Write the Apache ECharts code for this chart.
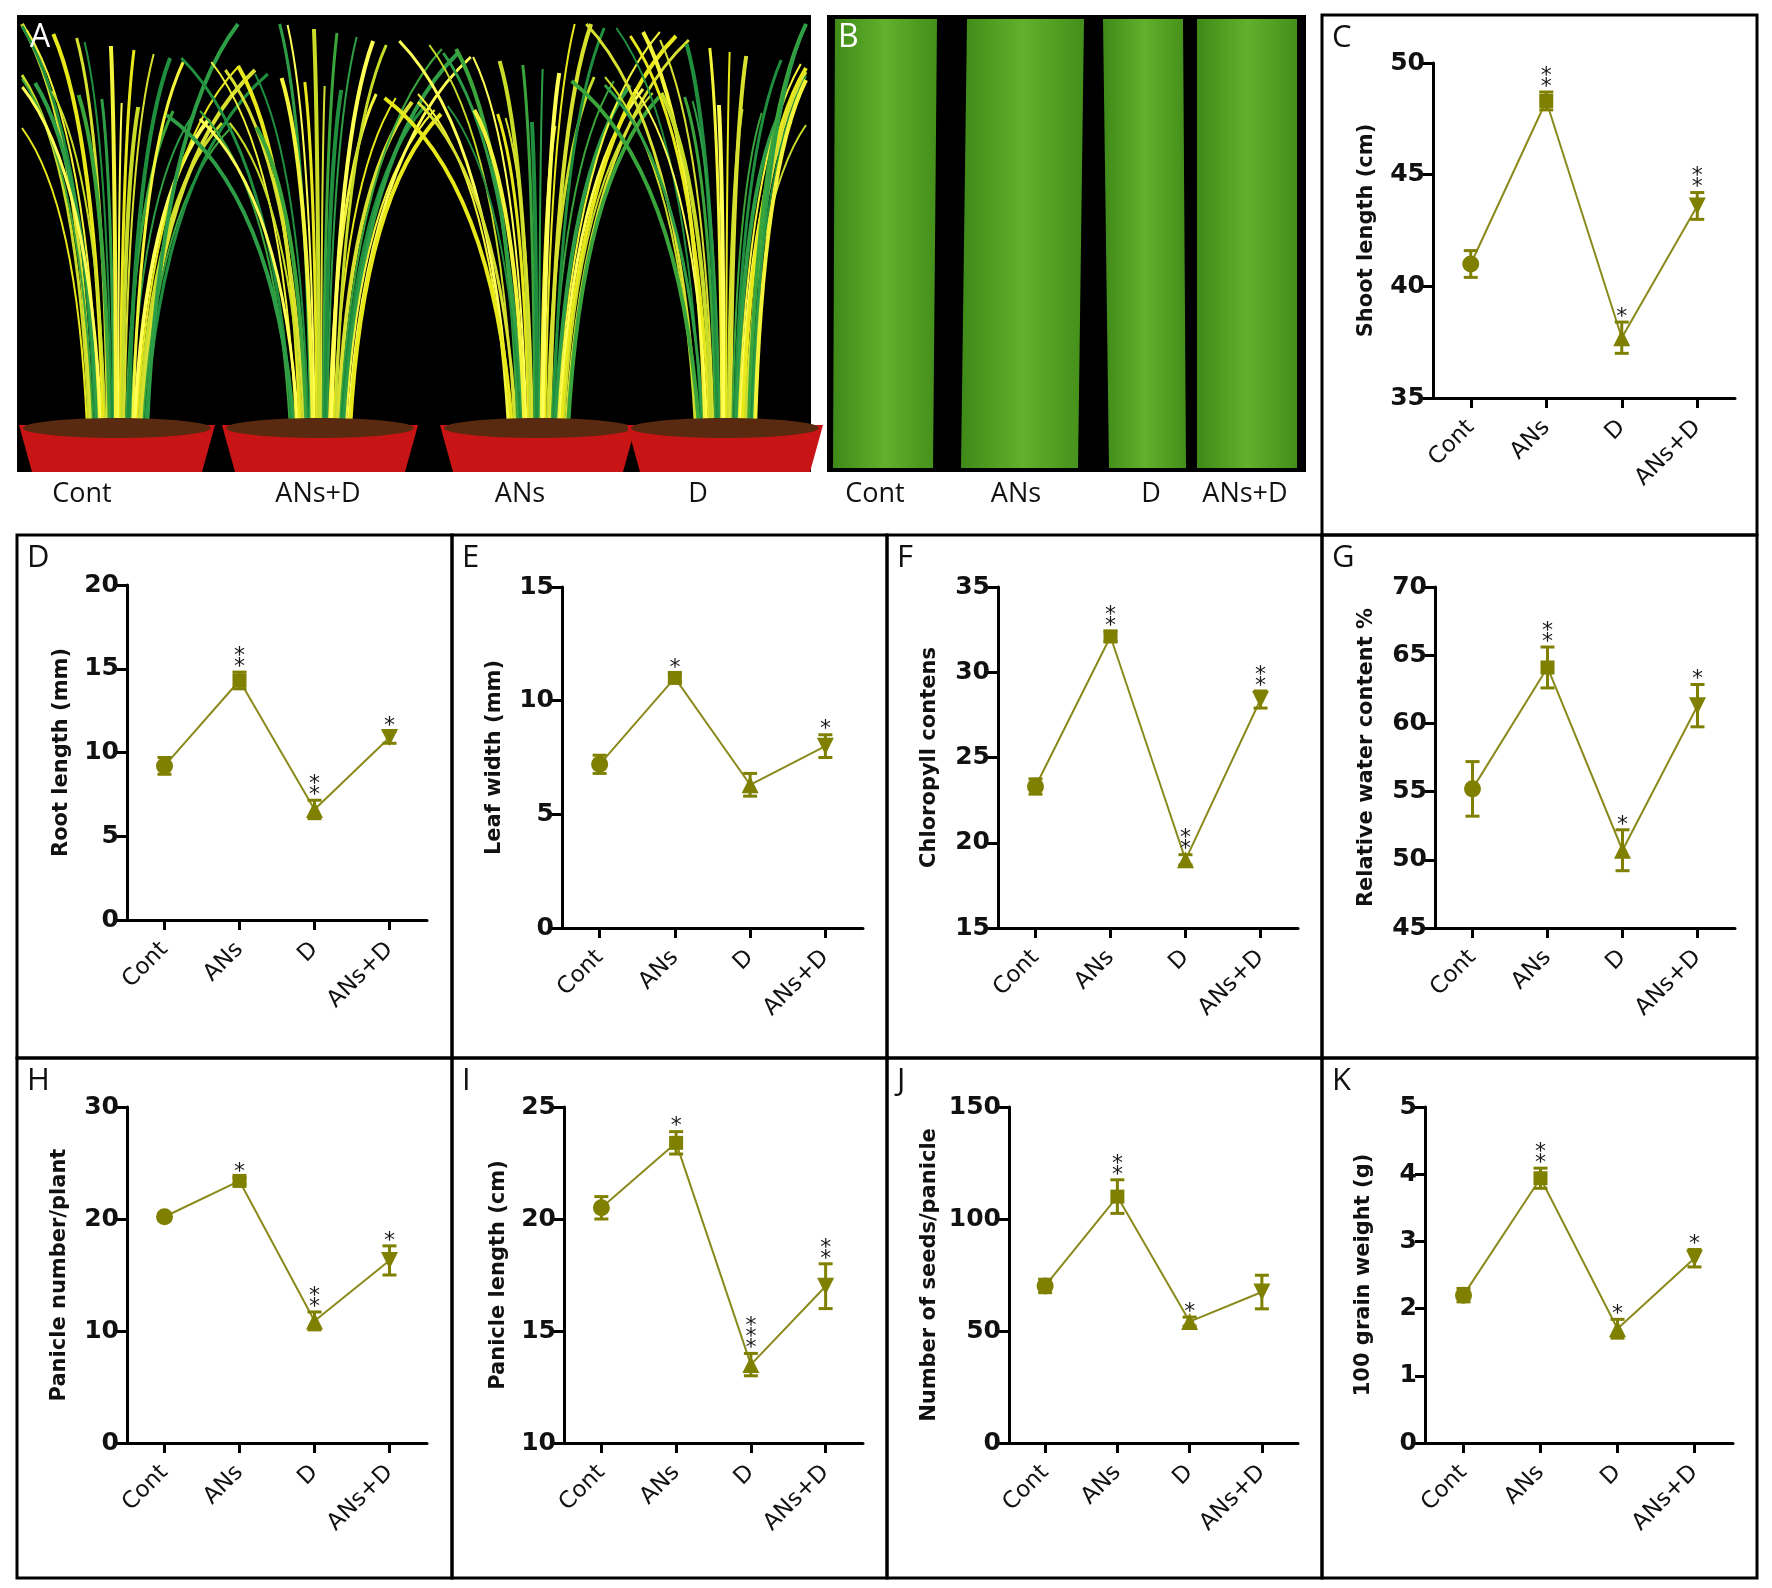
<!DOCTYPE html>
<html>
<head>
<meta charset="utf-8">
<script src="https://cdn.jsdelivr.net/npm/echarts@6/dist/echarts.min.js"></script>
<style>
body { margin: 0; background: #fff; }
#chart { width: 1772px; height: 1588px; }
</style>
</head>
<body>
<div id="chart"></div>
<script>
// treatments on every x axis
var groups = ['Cont', 'ANs', 'D', 'ANs+D'];

// C - shoot length (cm)
var shootMean = [41.0, 48.3, 37.7, 43.6];
var shootErr = [0.6, 0.4, 0.7, 0.6];
var shootStars = [0, 2, 1, 2];
// D - root length (mm)
var rootMean = [9.2, 14.3, 6.6, 10.9];
var rootErr = [0.5, 0.5, 0.55, 0.35];
var rootStars = [0, 2, 2, 1];
// E - leaf width (mm)
var leafMean = [7.2, 11.0, 6.3, 8.0];
var leafErr = [0.4, 0.2, 0.5, 0.5];
var leafStars = [0, 1, 0, 1];
// F - chlorophyll
var chlMean = [23.3, 32.1, 19.0, 28.4];
var chlErr = [0.45, 0.3, 0.3, 0.5];
var chlStars = [0, 2, 2, 2];
// G - relative water content %
var rwcMean = [55.2, 64.1, 50.7, 61.3];
var rwcErr = [2.0, 1.5, 1.5, 1.55];
var rwcStars = [0, 2, 1, 1];
// H - panicle number/plant
var panNumMean = [20.2, 23.4, 10.9, 16.3];
var panNumErr = [0.3, 0.3, 0.8, 1.3];
var panNumStars = [0, 1, 2, 1];
// I - panicle length (cm)
var panLenMean = [20.5, 23.4, 13.5, 17.0];
var panLenErr = [0.5, 0.5, 0.5, 1.0];
var panLenStars = [0, 1, 3, 2];
// J - number of seeds/panicle
var seedMean = [70.1, 110.0, 54.2, 67.4];
var seedErr = [3.0, 7.5, 2.0, 7.5];
var seedStars = [0, 2, 1, 0];
// K - 100 grain weight (g)
var grainMean = [2.2, 3.94, 1.7, 2.75];
var grainErr = [0.1, 0.15, 0.14, 0.13];
var grainStars = [0, 2, 1, 1];

var OLIVE = '#7f8000';
var LINE = '#8a8a1c';
var AXIS_FONT = 'DejaVu Sans, sans-serif';
var LABEL_FONT = 'Open Sans, sans-serif';

// layout: box = panel frame [x, y, w, h]; plot = [left, top, right, bottom] of the axes
var panels = [
	{ letter: 'C', name: 'Shoot length (cm)', mean: shootMean, err: shootErr, stars: shootStars,
		min: 35, max: 50, step: 5, box: [1322, 15, 435, 520], plot: [1433, 63, 1735, 398], gap: 56 },
	{ letter: 'D', name: 'Root length (mm)', mean: rootMean, err: rootErr, stars: rootStars,
		min: 0, max: 20, step: 5, box: [17, 535, 435, 523], plot: [127, 585, 427, 920], gap: 55 },
	{ letter: 'E', name: 'Leaf width (mm)', mean: leafMean, err: leafErr, stars: leafStars,
		min: 0, max: 15, step: 5, box: [452, 535, 435, 523], plot: [562, 587, 863, 928], gap: 57 },
	{ letter: 'F', name: 'Chloropyll contens', mean: chlMean, err: chlErr, stars: chlStars,
		min: 15, max: 35, step: 5, box: [887, 535, 435, 523], plot: [998, 587, 1298, 928], gap: 58 },
	{ letter: 'G', name: 'Relative water content %', mean: rwcMean, err: rwcErr, stars: rwcStars,
		min: 45, max: 70, step: 5, box: [1322, 535, 435, 523], plot: [1435, 587, 1735, 928], gap: 58 },
	{ letter: 'H', name: 'Panicle number/plant', mean: panNumMean, err: panNumErr, stars: panNumStars,
		min: 0, max: 30, step: 10, box: [17, 1058, 435, 520], plot: [127, 1107, 427, 1443], gap: 57 },
	{ letter: 'I', name: 'Panicle length (cm)', mean: panLenMean, err: panLenErr, stars: panLenStars,
		min: 10, max: 25, step: 5, box: [452, 1058, 435, 520], plot: [564, 1107, 863, 1443], gap: 55 },
	{ letter: 'J', name: 'Number of seeds/panicle', mean: seedMean, err: seedErr, stars: seedStars,
		min: 0, max: 150, step: 50, box: [887, 1058, 435, 520], plot: [1009, 1107, 1298, 1443], gap: 69 },
	{ letter: 'K', name: '100 grain weight (g)', mean: grainMean, err: grainErr, stars: grainStars,
		min: 0, max: 5, step: 1, box: [1322, 1058, 435, 520], plot: [1425, 1107, 1733, 1443], gap: 51 }
];

var symbols = ['circle', 'rect', 'triangle', 'triangle'];
var symbolSizes = [17, 14, 17, 17];
var symbolRotates = [0, 0, 0, 180];

function renderError(params, api) {
	var x = api.value(0);
	var m = api.value(1);
	var e = api.value(2);
	var n = api.value(3);
	var top = api.coord([x, m + e]);
	var bot = api.coord([x, m - e]);
	var cap = 7;
	var st = { stroke: OLIVE, lineWidth: 3 };
	var children = [
		{ type: 'line', shape: { x1: top[0], y1: top[1], x2: bot[0], y2: bot[1] }, style: st },
		{ type: 'line', shape: { x1: top[0] - cap, y1: top[1], x2: top[0] + cap, y2: top[1] }, style: st },
		{ type: 'line', shape: { x1: bot[0] - cap, y1: bot[1], x2: bot[0] + cap, y2: bot[1] }, style: st }
	];
	for (var i = 0; i < n; i++) {
		children.push({
			type: 'text',
			style: {
				text: '*', x: top[0], y: top[1] - 10 - i * 11 + 5,
				fill: '#1a1a1a', font: '22px ' + AXIS_FONT,
				textAlign: 'center', textVerticalAlign: 'middle'
			}
		});
	}
	return { type: 'group', children: children };
}

var grids = [], xAxes = [], yAxes = [], series = [];
var graphics = [];

panels.forEach(function(p, i) {
	grids.push({
		left: p.plot[0], top: p.plot[1],
		width: p.plot[2] - p.plot[0], height: p.plot[3] - p.plot[1],
		containLabel: false
	});
	xAxes.push({
		type: 'category', gridIndex: i, data: groups, boundaryGap: true,
		axisLine: { show: true, onZero: false, lineStyle: { color: '#000', width: 3 } },
		axisTick: { show: true, alignWithLabel: true, length: 10, lineStyle: { color: '#000', width: 3 } },
		axisLabel: { rotate: 45, margin: 26, color: '#111', fontSize: 23, fontFamily: AXIS_FONT, interval: 0 },
		splitLine: { show: false }
	});
	yAxes.push({
		type: 'value', gridIndex: i, min: p.min, max: p.max, interval: p.step,
		name: p.name, nameLocation: 'middle', nameGap: p.gap, nameRotate: 90,
		nameTextStyle: { color: '#111', fontSize: 21, fontWeight: 'bold', fontFamily: AXIS_FONT },
		axisLine: { show: true, lineStyle: { color: '#000', width: 3 } },
		axisTick: { show: true, length: 10, lineStyle: { color: '#000', width: 3 } },
		axisLabel: { margin: 8, color: '#111', fontSize: 25, fontWeight: 'bold', fontFamily: AXIS_FONT },
		splitLine: { show: false }
	});
	series.push({
		type: 'line', xAxisIndex: i, yAxisIndex: i, z: 3,
		lineStyle: { color: LINE, width: 2 },
		itemStyle: { color: OLIVE },
		data: p.mean.map(function(v, j) {
			return { value: v, symbol: symbols[j], symbolSize: symbolSizes[j], symbolRotate: symbolRotates[j] };
		})
	});
	series.push({
		type: 'custom', xAxisIndex: i, yAxisIndex: i, z: 4,
		renderItem: renderError,
		data: p.mean.map(function(v, j) { return [j, v, p.err[j], p.stars[j]]; })
	});
	graphics.push({
		type: 'rect', shape: { x: p.box[0], y: p.box[1], width: p.box[2], height: p.box[3] },
		style: { fill: null, stroke: '#000', lineWidth: 3 }, z: 10
	});
	graphics.push({
		type: 'text', x: p.box[0] + 10, y: p.box[1] + 8,
		style: { text: p.letter, fill: '#111', font: '31px ' + LABEL_FONT }
	});
});

// panel A: stand-in for the photograph of the four potted plants
var potCenters = [117, 320, 538, 725];
var leafColors = ['#e8e81a', '#3aa53a', '#f4f43a', '#c8dc28', '#1f8f3f', '#ffff55', '#d8e030', '#2e9e46'];
graphics.push({ type: 'rect', shape: { x: 17, y: 15, width: 794, height: 457 }, style: { fill: '#000' } });
potCenters.forEach(function(cx, pi) {
	var nLeaves = 30;
	for (var k = 0; k < nLeaves; k++) {
		var t = k / (nLeaves - 1);
		var bx = cx + (t - 0.5) * 60;
		var by = 428;
		var spread = (t - 0.5) * 2;
		var len = 300 + ((k * 53 + pi * 17) % 110);
		var tx = Math.max(22, Math.min(806, bx + spread * (90 + (k * 29) % 70)));
		var ty = Math.max(24, by - len);
		graphics.push({
			type: 'bezierCurve',
			shape: { x1: bx, y1: by, cpx1: bx + (tx - bx) * 0.15, cpy1: by - (by - ty) * 0.75, x2: tx, y2: ty },
			style: { stroke: leafColors[(k * 3 + pi) % leafColors.length], lineWidth: 2 + (k % 3), fill: null }
		});
	}
	graphics.push({
		type: 'polygon',
		shape: { points: [[cx - 98, 425], [cx + 98, 425], [cx + 85, 472], [cx - 85, 472]] },
		style: { fill: '#c81414' }
	});
	graphics.push({
		type: 'ellipse', shape: { cx: cx, cy: 428, rx: 94, ry: 10 },
		style: { fill: '#5a2a10' }
	});
});
graphics.push({ type: 'text', x: 30, y: 22, style: { text: 'A', fill: '#fff', font: '32px ' + LABEL_FONT } });

// panel B: stand-in for the photograph of the four leaf blades
graphics.push({ type: 'rect', shape: { x: 827, y: 15, width: 479, height: 457 }, style: { fill: '#000' } });
var bladeEdges = [[835, 937, 833, 933], [967, 1084, 961, 1078], [1103, 1183, 1109, 1186], [1197, 1297, 1197, 1297]];
bladeEdges.forEach(function(b) {
	graphics.push({
		type: 'polygon',
		shape: { points: [[b[0], 19], [b[1], 19], [b[3], 468], [b[2], 468]] },
		style: {
			fill: new echarts.graphic.LinearGradient(0, 0, 1, 0, [
				{ offset: 0, color: '#3f8a18' },
				{ offset: 0.5, color: '#62b02c' },
				{ offset: 1, color: '#448f1a' }
			])
		}
	});
});
graphics.push({ type: 'text', x: 838, y: 22, style: { text: 'B', fill: '#fff', font: '32px ' + LABEL_FONT } });

// captions under the photographs
var captionA = ['Cont', 'ANs+D', 'ANs', 'D'];
var captionAx = [82, 318, 520, 698];
var captionB = ['Cont', 'ANs', 'D', 'ANs+D'];
var captionBx = [875, 1016, 1151, 1245];
captionA.concat(captionB).forEach(function(txt, i) {
	var x = i < 4 ? captionAx[i] : captionBx[i - 4];
	graphics.push({
		type: 'text', x: x, y: 494,
		style: { text: txt, fill: '#111', font: '27px ' + LABEL_FONT, textAlign: 'center', textVerticalAlign: 'middle' }
	});
});

var myChart = echarts.init(document.getElementById('chart'));
myChart.setOption({
	backgroundColor: '#fff',
	animation: false,
	grid: grids,
	xAxis: xAxes,
	yAxis: yAxes,
	series: series,
	graphic: graphics
});
</script>
</body>
</html>
